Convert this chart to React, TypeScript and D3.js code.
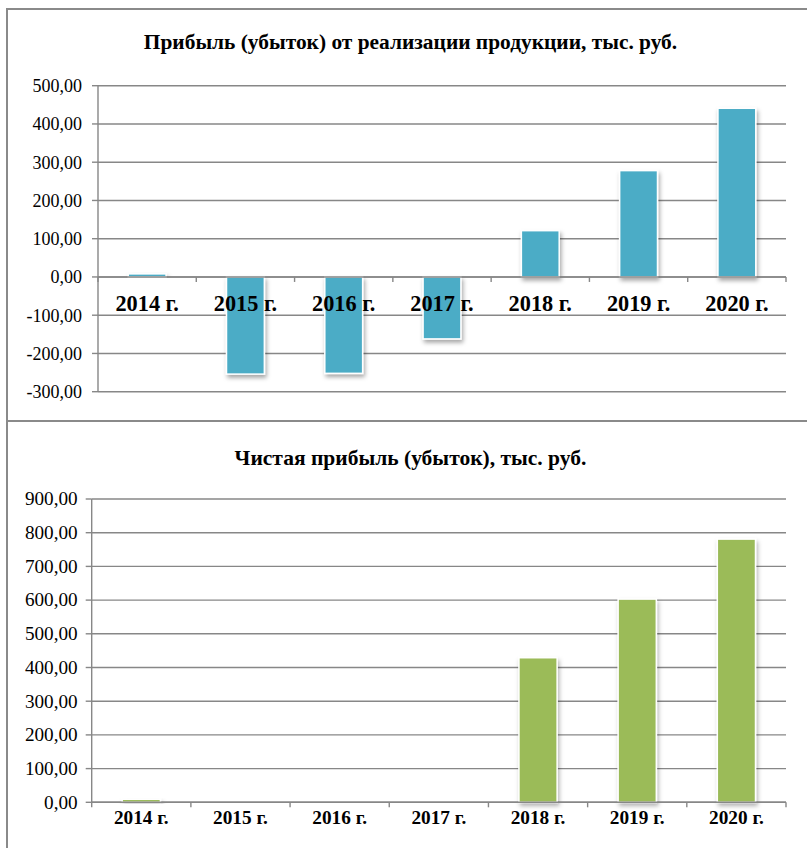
import React from "react";
import * as d3 from "d3";

const categories = ["2014 г.", "2015 г.", "2016 г.", "2017 г.", "2018 г.", "2019 г.", "2020 г."];
const profitValues = [8, -254, -252, -162, 121, 278, 441];
const netProfitValues = [9, 0, 0, 0, 429, 603, 781];
const profitTicks = [-300, -200, -100, 0, 100, 200, 300, 400, 500];
const netTicks = [0, 100, 200, 300, 400, 500, 600, 700, 800, 900];
const profitTitle = "Прибыль (убыток) от реализации продукции, тыс. руб.";
const netTitle = "Чистая прибыль (убыток), тыс. руб.";

const FONT = "'Liberation Serif', 'Times New Roman', serif";
const fmt = (v: number) => v.toFixed(2).replace(".", ",");

type ChartProps = {
  id: string;
  values: number[];
  ticks: number[];
  title: string;
  color: string;
  x0: number;
  x1: number;
  yTop: number;
  yBottom: number;
  titleY: number;
  titleFont: number;
  tickFont: number;
  tickGap: number;
  catFont: number;
  catY: number;
  tickDy: number;
};

function BarChart(p: ChartProps) {
  const domain = d3.extent(p.ticks) as [number, number];
  const y = d3.scaleLinear().domain(domain).range([p.yBottom, p.yTop]);
  const x = d3.scaleBand<string>().domain(categories).range([p.x0, p.x1]).paddingInner(0).paddingOuter(0);
  const bw = x.bandwidth() * 0.385;
  const zeroY = y(0);
  return (
    <g>
      <text x={410.5} y={p.titleY} textAnchor="middle" fontFamily={FONT} fontWeight="bold" fontSize={p.titleFont} fill="#000">
        {p.title}
      </text>
      {p.ticks.map((t) => (
        <g key={t}>
          <line x1={p.x0} x2={p.x1} y1={y(t)} y2={y(t)} stroke="#878787" strokeWidth={1.4} />
          <line x1={p.x0 - 6} x2={p.x0} y1={y(t)} y2={y(t)} stroke="#878787" strokeWidth={1.4} />
          <text x={p.x0 - p.tickGap} y={y(t) + p.tickDy} textAnchor="end" fontFamily={FONT} fontSize={p.tickFont} fill="#000">
            {fmt(t)}
          </text>
        </g>
      ))}
      <line x1={p.x0} x2={p.x0} y1={p.yTop} y2={p.yBottom} stroke="#878787" strokeWidth={1.4} />
      {categories.map((c, i) => {
        const v = p.values[i];
        const cx = (x(c) as number) + x.bandwidth() / 2;
        const top = Math.min(y(v), zeroY);
        const h = Math.abs(y(v) - zeroY);
        return h > 0.01 ? (
          <rect key={c} x={cx - bw / 2} y={top} width={bw} height={h} fill={p.color} stroke="#ffffff" strokeWidth={1.5} filter={`url(#${p.id}-sh)`} />
        ) : null;
      })}
      <line x1={p.x0} x2={p.x1} y1={zeroY} y2={zeroY} stroke="#878787" strokeWidth={1.4} />
      {[...categories.map((c) => x(c) as number), p.x1].map((tx, i) => (
        <line key={i} x1={tx} x2={tx} y1={zeroY} y2={zeroY + 5} stroke="#878787" strokeWidth={1.4} />
      ))}
      {categories.map((c) => (
        <text key={c} x={(x(c) as number) + x.bandwidth() / 2} y={p.catY} textAnchor="middle" fontFamily={FONT} fontWeight="bold" fontSize={p.catFont} fill="#000">
          {c}
        </text>
      ))}
    </g>
  );
}

export default function App() {
  return (
    <svg width={807} height={848} style={{ position: "absolute", left: 0, top: 0 }}>
      <defs>
        <filter id="top-sh" x="-30%" y="-30%" width="160%" height="160%">
          <feDropShadow dx={1.5} dy={3} stdDeviation={2} floodColor="#000" floodOpacity={0.35} />
        </filter>
        <filter id="bot-sh" x="-30%" y="-30%" width="160%" height="160%">
          <feDropShadow dx={1.5} dy={3} stdDeviation={2} floodColor="#000" floodOpacity={0.3} />
        </filter>
      </defs>
      <rect x={0} y={0} width={807} height={848} fill="#fff" />
      <rect x={7} y={9} width={810} height={412} fill="none" stroke="#8a8a8a" strokeWidth={2} />
      <rect x={7} y={421} width={810} height={440} fill="none" stroke="#8a8a8a" strokeWidth={2} />
      <BarChart
        id="top"
        values={profitValues}
        ticks={profitTicks}
        title={profitTitle}
        color="#4BACC6"
        x0={98}
        x1={786}
        yTop={85.7}
        yBottom={391.7}
        titleY={48.5}
        titleFont={21.4}
        tickFont={18}
        tickGap={16}
        catFont={22.3}
        catY={311}
        tickDy={6.5}
      />
      <BarChart
        id="bot"
        values={netProfitValues}
        ticks={netTicks}
        title={netTitle}
        color="#9BBB59"
        x0={91.7}
        x1={786}
        yTop={499}
        yBottom={802.3}
        titleY={464.5}
        titleFont={21.5}
        tickFont={19.2}
        tickGap={14}
        catFont={19.3}
        catY={823.5}
        tickDy={6.3}
      />
    </svg>
  );
}
